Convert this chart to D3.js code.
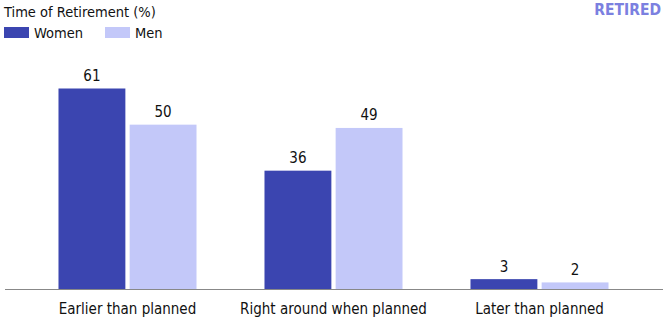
<!DOCTYPE html>
<html><head><meta charset="utf-8">
<script src="https://cdn.jsdelivr.net/npm/d3@7"></script>
<style>
body{margin:0;background:#fff;}
text{font-family:"DejaVu Sans Condensed","Liberation Sans Narrow","DejaVu Sans",sans-serif;}
</style></head>
<body><svg id="c" width="668" height="323"></svg>
<script>
const categories = ["Earlier than planned","Right around when planned","Later than planned"];
const seriesNames = ["Women","Men"];
const women = [61,36,3];
const men = [50,49,2];
const colors = ["#3b45b0","#c3c8f9"];

const svg = d3.select("#c");
const baseY = 289;
const x0 = d3.scaleBand().domain(categories).range([24.5,642.5]).paddingInner(0.33).paddingOuter(0.165);
const x1 = d3.scaleBand().domain(seriesNames).range([0,x0.bandwidth()]).paddingInner(0.06);
const y = d3.scaleLinear().domain([0,61]).range([baseY,88.5]);

const data = categories.map((c,i)=>({c, vals:[{s:"Women",v:women[i]},{s:"Men",v:men[i]}]}));

const g = svg.selectAll("g.grp").data(data).join("g").attr("class","grp")
  .attr("transform",d=>`translate(${x0(d.c)},0)`);
g.selectAll("rect").data(d=>d.vals).join("rect")
  .attr("x",d=>x1(d.s)).attr("width",x1.bandwidth())
  .attr("y",d=>y(d.v)).attr("height",d=>baseY-y(d.v))
  .attr("fill",(d,i)=>colors[i]);
g.selectAll("text.v").data(d=>d.vals).join("text").attr("class","v")
  .attr("x",d=>x1(d.s)+x1.bandwidth()/2).attr("y",d=>y(d.v)-7.5)
  .attr("text-anchor","middle").attr("font-size",15).attr("fill","#111").text(d=>d.v);

svg.append("line").attr("x1",5).attr("x2",663).attr("y1",baseY+0.5).attr("y2",baseY+0.5)
  .attr("stroke","#888").attr("stroke-width",1);

const xAxis = d3.axisBottom(x0).tickSize(0).tickPadding(0);
const ax = svg.append("g").attr("transform",`translate(0,${baseY})`).call(xAxis);
ax.select(".domain").remove();
ax.selectAll("text").attr("font-size",15).attr("fill","#111").attr("dy",null).attr("y",25)
  .style("font-family",'"DejaVu Sans Condensed","Liberation Sans Narrow",sans-serif');

svg.append("text").attr("x",4).attr("y",17).attr("font-size",14.5).attr("fill","#111").text("Time of Retirement (%)");
svg.append("text").attr("x",661).attr("y",14.5).attr("text-anchor","end").attr("font-size",15.5)
  .attr("font-weight","bold").attr("fill","#7b80e0").text("RETIRED");

const leg = svg.append("g");
const legX=[4,105];
seriesNames.forEach((s,i)=>{
  leg.append("rect").attr("x",legX[i]).attr("y",27).attr("width",25).attr("height",11).attr("fill",colors[i]);
  leg.append("text").attr("x",legX[i]+30).attr("y",38).attr("font-size",14.5).attr("fill","#111").text(s);
});
</script></body></html>
